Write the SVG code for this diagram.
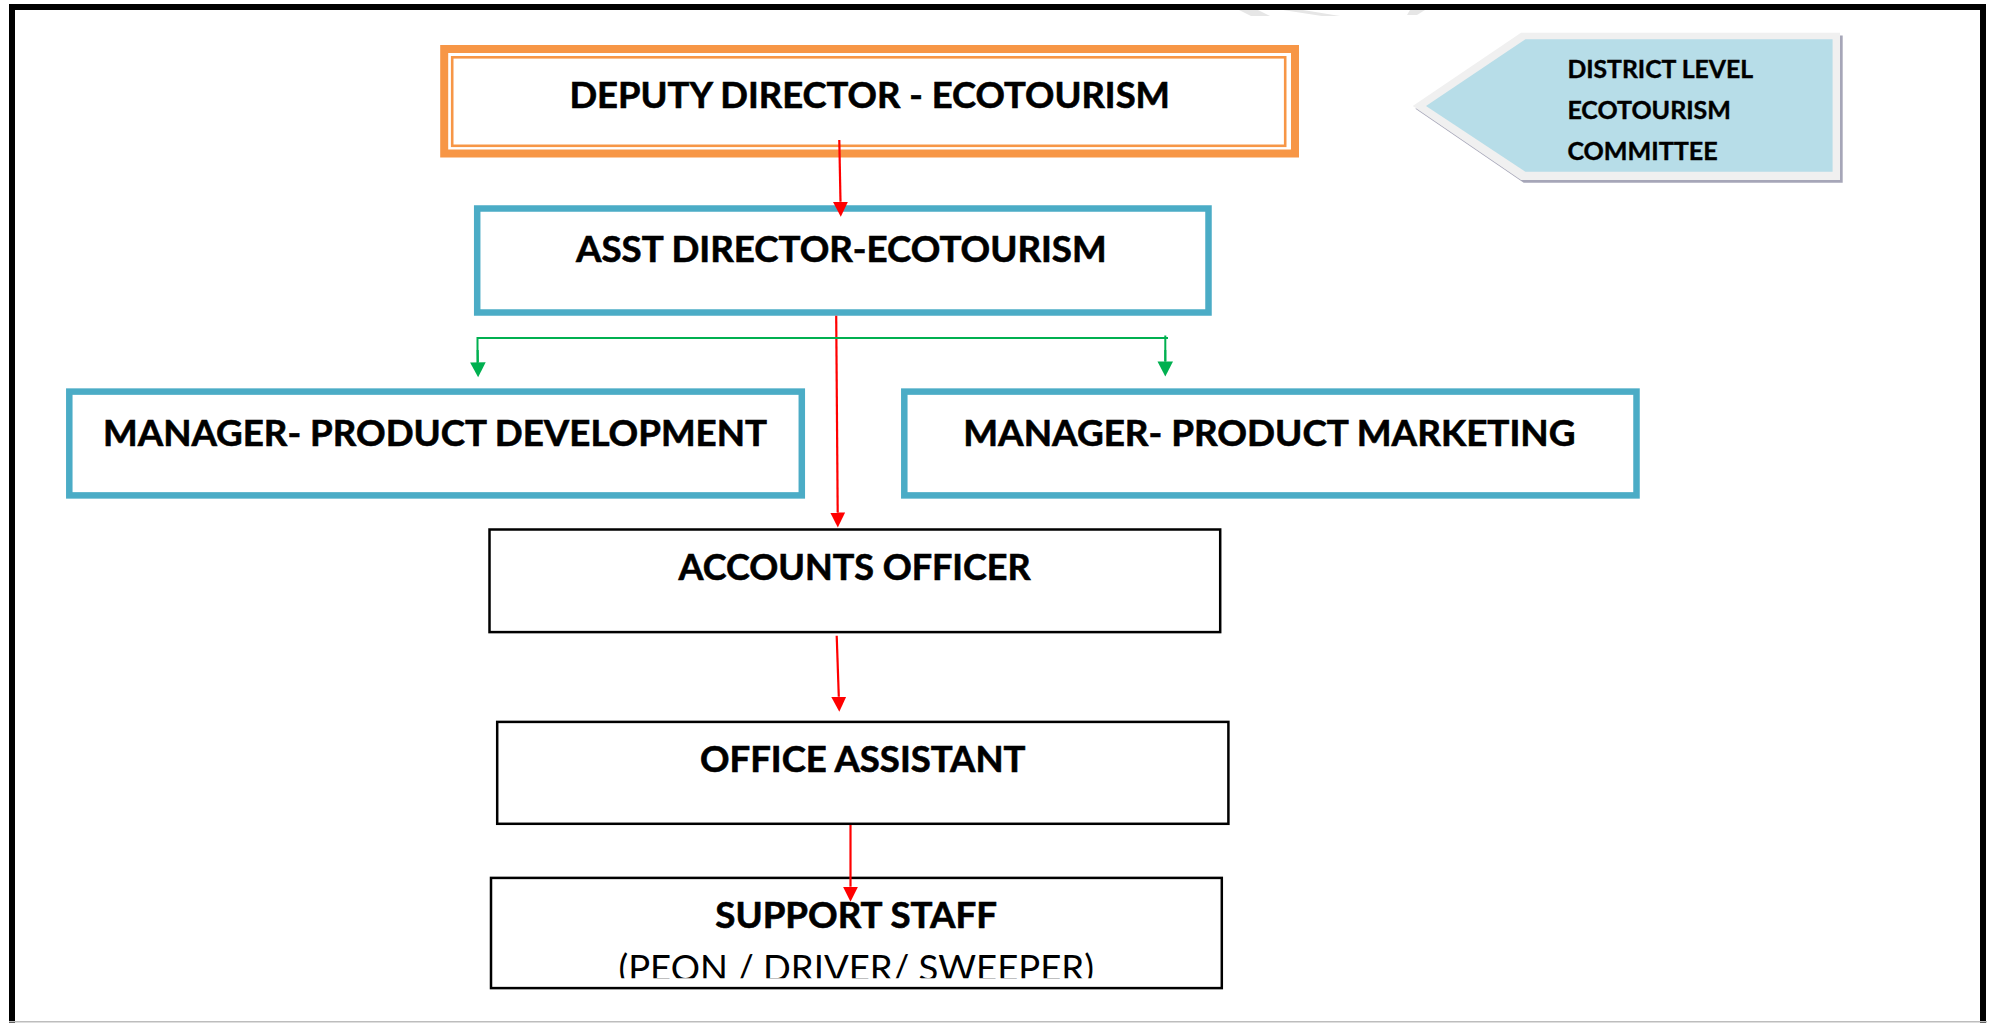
<svg xmlns="http://www.w3.org/2000/svg" width="1993" height="1023" viewBox="0 0 1993 1023">
  <defs>
    <style>
      .lbl { font-family: "Lato", "Liberation Sans", sans-serif; font-weight: 700; font-size: 36px; fill: #000; stroke: #000; stroke-width: 0.6; }
      .sub { font-family: "Lato", "Liberation Sans", sans-serif; font-weight: 400; font-size: 36px; fill: #000; }
      .small { font-family: "Lato", "Liberation Sans", sans-serif; font-weight: 700; font-size: 24px; fill: #000; stroke: #000; stroke-width: 0.4; }
      .blue { fill: #fff; stroke: #4bacc6; stroke-width: 6.5; }
      .plain { fill: #fff; stroke: #000; stroke-width: 2.5; }
      .red { stroke: #ff0000; stroke-width: 2.2; fill: none; marker-end: url(#arrRed); }
      .green { stroke: #00b050; stroke-width: 2; fill: none; }
      .greenArr { stroke: #00b050; stroke-width: 2; fill: none; marker-end: url(#arrGreen); }
      .wm { fill: #e6e6e6; }
    </style>
    <marker id="arrRed" markerUnits="userSpaceOnUse" markerWidth="16" markerHeight="16" refX="0" refY="7.5" orient="auto">
      <path d="M0,0 L15,7.5 L0,15 Z" fill="#ff0000"/>
    </marker>
    <marker id="arrGreen" markerUnits="userSpaceOnUse" markerWidth="16" markerHeight="16" refX="0" refY="7.8" orient="auto">
      <path d="M0,0 L15,7.8 L0,15.6 Z" fill="#00b050"/>
    </marker>
    <clipPath id="clipSub">
      <rect x="480" y="930" width="760" height="48.3"/>
    </clipPath>
  </defs>

  <rect x="0" y="0" width="1993" height="1023" fill="#fff"/>

  <!-- faint marks along the top edge -->
  <g id="top-marks">
    <polygon class="wm" points="1239,10 1258,10 1270,16 1251,16"/>
    <polygon class="wm" points="1283,10 1303,10 1340,16 1322,16"/>
    <polygon class="wm" points="1410,10 1425,10 1417,15 1407,15"/>
  </g>

  <!-- page frame -->
  <g id="frame">
    <path d="M12,1023 V7 H1983 V1023" fill="none" stroke="#000" stroke-width="6"/>
    <line x1="9" y1="1021.7" x2="1987" y2="1021.7" stroke="#bdbdbd" stroke-width="1.6"/>
  </g>

  <g id="deputy-director">
    <rect x="444.2" y="49" width="850.8" height="104.5" fill="#fff" stroke="#f79646" stroke-width="8"/>
    <rect x="452.2" y="57.3" width="833" height="88.5" fill="none" stroke="#f79646" stroke-width="2.6"/>
    <text class="lbl" x="569.4" y="108.3" textLength="600.6" lengthAdjust="spacingAndGlyphs">DEPUTY DIRECTOR - ECOTOURISM</text>
  </g>

  <g id="district-committee">
    <polygon points="1523.7,35.4 1842.7,35.4 1842.7,182.7 1523.7,182.7 1415.4,108.7" fill="#a6a6b8"/>
    <polygon points="1521,32.7 1840,32.7 1840,180 1521,180 1412.7,106" fill="#f0f0f0"/>
    <polygon points="1525.4,39.3 1832.6,39.3 1832.6,171.7 1525.4,171.7 1426,106" fill="#b7dde8"/>
    <text class="small" x="1567.4" y="77.5" textLength="185.6" lengthAdjust="spacingAndGlyphs">DISTRICT LEVEL</text>
    <text class="small" x="1567.4" y="118.5" textLength="163.5" lengthAdjust="spacingAndGlyphs">ECOTOURISM</text>
    <text class="small" x="1567.4" y="159.5" textLength="150.3" lengthAdjust="spacingAndGlyphs">COMMITTEE</text>
  </g>

  <g id="asst-director">
    <rect class="blue" x="477.2" y="208.5" width="731.3" height="104"/>
    <text class="lbl" x="576" y="262" textLength="530.6" lengthAdjust="spacingAndGlyphs">ASST DIRECTOR-ECOTOURISM</text>
  </g>

  <g id="manager-development">
    <rect class="blue" x="69.3" y="391.6" width="732.5" height="103.8"/>
    <text class="lbl" x="103" y="446" textLength="664" lengthAdjust="spacingAndGlyphs">MANAGER- PRODUCT DEVELOPMENT</text>
  </g>

  <g id="manager-marketing">
    <rect class="blue" x="904.3" y="391.6" width="732.2" height="103.8"/>
    <text class="lbl" x="963.3" y="446" textLength="612.2" lengthAdjust="spacingAndGlyphs">MANAGER- PRODUCT MARKETING</text>
  </g>

  <g id="accounts-officer">
    <rect class="plain" x="489.5" y="529.5" width="730.7" height="102.6"/>
    <text class="lbl" x="678.6" y="580" textLength="352" lengthAdjust="spacingAndGlyphs">ACCOUNTS OFFICER</text>
  </g>

  <g id="office-assistant">
    <rect class="plain" x="497.2" y="721.9" width="731.2" height="101.9"/>
    <text class="lbl" x="700" y="771.7" textLength="325.5" lengthAdjust="spacingAndGlyphs">OFFICE ASSISTANT</text>
  </g>

  <g id="support-staff">
    <rect class="plain" x="491" y="877.9" width="730.8" height="110.2"/>
    <text class="lbl" x="715.3" y="927.7" textLength="281.7" lengthAdjust="spacingAndGlyphs">SUPPORT STAFF</text>
    <text class="sub" x="618.4" y="980.6" textLength="475.6" lengthAdjust="spacingAndGlyphs" clip-path="url(#clipSub)">(PEON / DRIVER/ SWEEPER)</text>
  </g>

  <!-- connectors, drawn over the boxes so the arrowheads stay visible -->
  <g id="connectors">
    <line class="red" x1="839.3" y1="140" x2="840.5" y2="201.8"/>
    <line class="red" x1="836.2" y1="315.7" x2="837.7" y2="512.5"/>
    <line class="red" x1="836.7" y1="635.7" x2="838.8" y2="696.8"/>
    <line class="red" x1="850.5" y1="825" x2="850.5" y2="886.7"/>
    <polyline class="green" points="477.5,363 477.5,338 1168,338"/>
    <line class="greenArr" x1="477.7" y1="350" x2="477.9" y2="362.3"/>
    <line class="green" x1="1165.3" y1="335.5" x2="1165.3" y2="361.6"/>
    <line class="greenArr" x1="1165.3" y1="350" x2="1165.3" y2="361.4"/>
  </g>
</svg>
